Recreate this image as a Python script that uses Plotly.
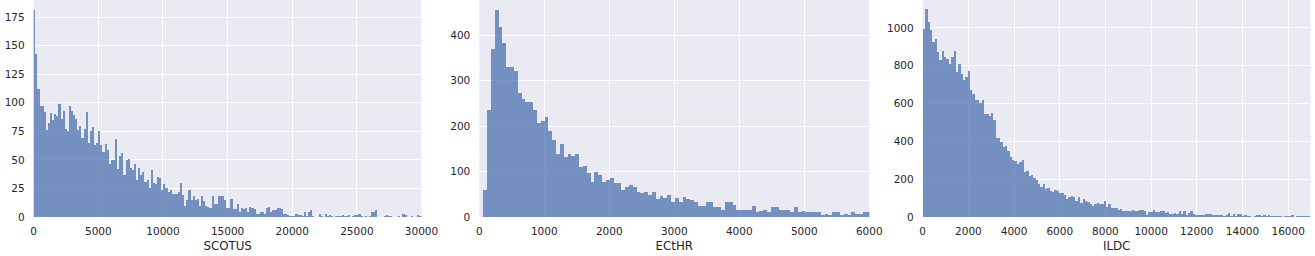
import plotly.graph_objects as go

# ---------------- data ----------------
scotus_bin_start = -60.0
scotus_bin_width = 162.3
scotus_counts = [
    181, 143, 112, 97, 97, 92, 76, 82, 91, 85, 90, 88, 99, 86, 93, 77, 75, 97, 93, 89,
    86, 76, 80, 69, 77, 92, 65, 75, 79, 63, 65, 75, 63, 57, 64, 59, 46, 50, 50, 68,
    42, 53, 56, 37, 50, 51, 43, 41, 46, 32, 43, 37, 39, 31, 32, 25, 41, 30, 29, 35,
    34, 24, 29,
    25, 22, 24, 20, 20, 20, 22, 30, 19, 10, 15, 24, 15, 18, 15, 16, 10, 18, 14, 10,
    9, 8, 18, 11, 11, 18, 18,
    18, 15, 8, 8, 16, 7, 7, 11, 4, 8, 7, 8, 4, 9, 8, 7, 3, 3, 4, 4, 3, 8, 9, 4, 6, 6,
    8, 8, 7, 3, 3, 2, 1, 1, 1, 3, 2, 2, 1, 4, 1, 4, 6, 1, 0, 0, 3, 1, 0, 3, 1, 2, 1, 0,
    1, 1, 1, 2, 1, 1, 2, 0, 1, 2, 2, 3, 1, 0, 1, 0, 1, 4, 4, 6, 0, 0, 0, 1, 2, 1, 1, 0,
    0, 0, 1, 0, 3, 2, 0, 0, 1, 0, 0, 2, 1, 1, 1,
]

ecthr_bin_start = 65.0
ecthr_bin_width = 59.0
ecthr_counts = [
    60, 236, 370, 456, 418, 383, 330, 330, 322, 273, 260, 253, 253, 236, 207, 212, 220, 190, 170, 139,
    161, 133, 139, 135, 139, 111, 113, 97, 78, 100, 93, 78, 82, 86, 75, 75, 60, 67, 71, 67,
    56, 53, 56, 49, 56, 40, 47, 42, 49, 34, 42,
    32, 43, 40, 38, 34, 25, 25, 32, 34, 23, 21, 16, 34, 32, 27, 16, 16, 16, 16, 25,
    12, 14, 16, 12, 21, 21, 16, 16, 16, 10, 23, 12, 14, 10, 12, 12, 10, 5, 7, 5,
    10, 12, 5, 7, 5, 10, 7, 7, 12, 12,
]

ildc_bin_start = 0.0
ildc_bin_width = 102.7
ildc_counts = [
    993, 1099, 1030, 988, 924, 940, 871, 828, 876, 844, 834, 807, 844, 876, 765, 812, 754, 727, 743, 770,
    674, 653, 621, 621, 605, 621, 547, 547, 536, 552, 515, 419, 419, 398, 372, 377, 350, 319, 303, 297,
    281, 292, 303, 239, 244, 218, 223, 207, 196, 175, 159, 175, 149, 154, 138, 133, 143, 138, 127, 127,
    117, 96, 106, 112, 106, 85, 106, 74, 96, 85, 80, 69, 58, 69, 74, 69, 69, 85, 53, 69,
    49, 48, 50, 38, 43, 32, 33, 31, 32, 38, 32, 33, 38, 37, 32, 11, 27, 27, 38, 27,
    28, 32, 31, 22, 27, 16, 17, 22, 16, 32, 16, 32, 11, 22, 32, 16, 11, 11, 10, 11,
    16, 15, 16, 11, 10, 11, 11, 10, 5, 11, 22, 5, 16, 5, 16, 16, 5, 11, 5, 4,
    0, 5, 11, 10, 5, 11, 5, 11, 5, 4, 5, 5, 4, 0, 5, 5, 4, 11, 0, 5,
    5, 4, 5, 5, 5,
]

panel_titles = ["SCOTUS", "ECtHR", "ILDC"]
x_ranges = [[0, 30000], [0, 6000], [0, 16977]]
x_dticks = [5000, 1000, 2000]
y_ranges = [[0, 190], [0, 478], [0, 1148]]
y_dticks = [25, 100, 200]

# ---------------- figure ----------------
W, H = 1315, 256
ML, MR, MT, MB = 33, 4, 0, 39
PW = W - ML - MR
x_domains_px = [(33.7, 421.5), (479.3, 869.3), (922.7, 1310.5)]
bar_color = "rgba(76,114,176,0.75)"
txt = "#262626"
font_family = "DejaVu Sans, Liberation Sans, sans-serif"

fig = go.Figure()
series = [
    (scotus_bin_start, scotus_bin_width, scotus_counts),
    (ecthr_bin_start, ecthr_bin_width, ecthr_counts),
    (ildc_bin_start, ildc_bin_width, ildc_counts),
]
for i, (start, width, counts) in enumerate(series):
    centers = [start + width * (k + 0.5) for k in range(len(counts))]
    suffix = "" if i == 0 else str(i + 1)
    fig.add_trace(go.Bar(
        x=centers, y=counts, width=width,
        marker=dict(color=bar_color, line=dict(width=0)),
        xaxis="x" + suffix, yaxis="y" + suffix,
        showlegend=False,
    ))

layout = dict(
    width=W, height=H,
    margin=dict(l=ML, r=MR, t=MT, b=MB, autoexpand=False),
    paper_bgcolor="white",
    plot_bgcolor="#EAEAF2",
    bargap=0,
    font=dict(family=font_family, color=txt, size=10.5),
)
for i in range(3):
    suffix = "" if i == 0 else str(i + 1)
    d0, d1 = x_domains_px[i]
    layout["xaxis" + suffix] = dict(
        domain=[max(0, (d0 - ML) / PW), min(1, (d1 - ML) / PW)],
        anchor="y" + suffix,
        range=x_ranges[i],
        dtick=x_dticks[i], tick0=0, tickformat="d",
        showgrid=True, gridcolor="white", gridwidth=1,
        zeroline=False, showline=False, ticks="",
        ticklabelstandoff=6, automargin=False,
        tickfont=dict(size=10.5, color=txt),
        title=dict(text=panel_titles[i], font=dict(size=11.8, color=txt), standoff=6),
    )
    layout["yaxis" + suffix] = dict(
        domain=[0, 1],
        anchor="x" + suffix,
        range=y_ranges[i],
        dtick=y_dticks[i], tick0=0, tickformat="d",
        showgrid=True, gridcolor="white", gridwidth=1,
        zeroline=False, showline=False, ticks="",
        ticklabelstandoff=8, automargin=False,
        tickfont=dict(size=10.5, color=txt),
    )
fig.update_layout(**layout)
fig.write_html(
    "out.html",
    config={"displayModeBar": False},
    post_script="document.body.style.margin='0';document.body.style.padding='0';",
)
